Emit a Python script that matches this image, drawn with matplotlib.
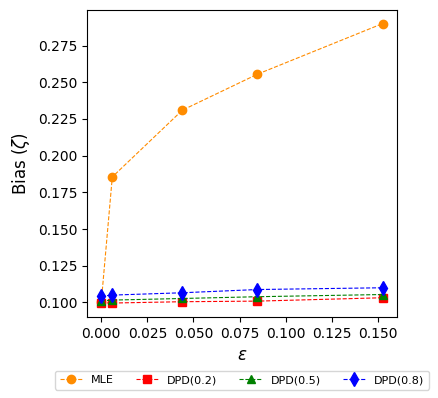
import numpy as np
import matplotlib.pyplot as plt

# contamination levels
eps = [0.0, 0.006, 0.044, 0.0847, 0.1526]

# bias of each estimator
bias_mle = [0.100, 0.1855, 0.231, 0.2555, 0.290]
bias_dpd02 = [0.0998, 0.0996, 0.1005, 0.1009, 0.1032]
bias_dpd05 = [0.1010, 0.1016, 0.1027, 0.1039, 0.1054]
bias_dpd08 = [0.1043, 0.1050, 0.1066, 0.1088, 0.1100]

fig = plt.figure(figsize=(4.38, 3.98), dpi=100)
ax = fig.add_axes([0.199, 0.2035, 0.707, 0.7725])

ax.plot(eps, bias_mle, '--o', color='darkorange', lw=0.8, ms=6, label='MLE')
ax.plot(eps, bias_dpd02, '--s', color='red', lw=0.8, ms=6, label='DPD(0.2)')
ax.plot(eps, bias_dpd05, '--^', color='green', lw=0.8, ms=6, label='DPD(0.5)')
ax.plot(eps, bias_dpd08, '--d', color='blue', lw=0.8, ms=7, label='DPD(0.8)')

ax.set_xlabel(r'$\epsilon$', fontsize=12)
ax.set_ylabel(r'Bias ($\zeta$)', fontsize=12)
ax.set_xticks(np.arange(0, 0.151, 0.025))
ax.set_yticks(np.arange(0.1, 0.2751, 0.025))

ax.legend(loc='upper center', bbox_to_anchor=(0.5, -0.157), ncol=4, fontsize=8)

fig.savefig('out.png', dpi=100)
